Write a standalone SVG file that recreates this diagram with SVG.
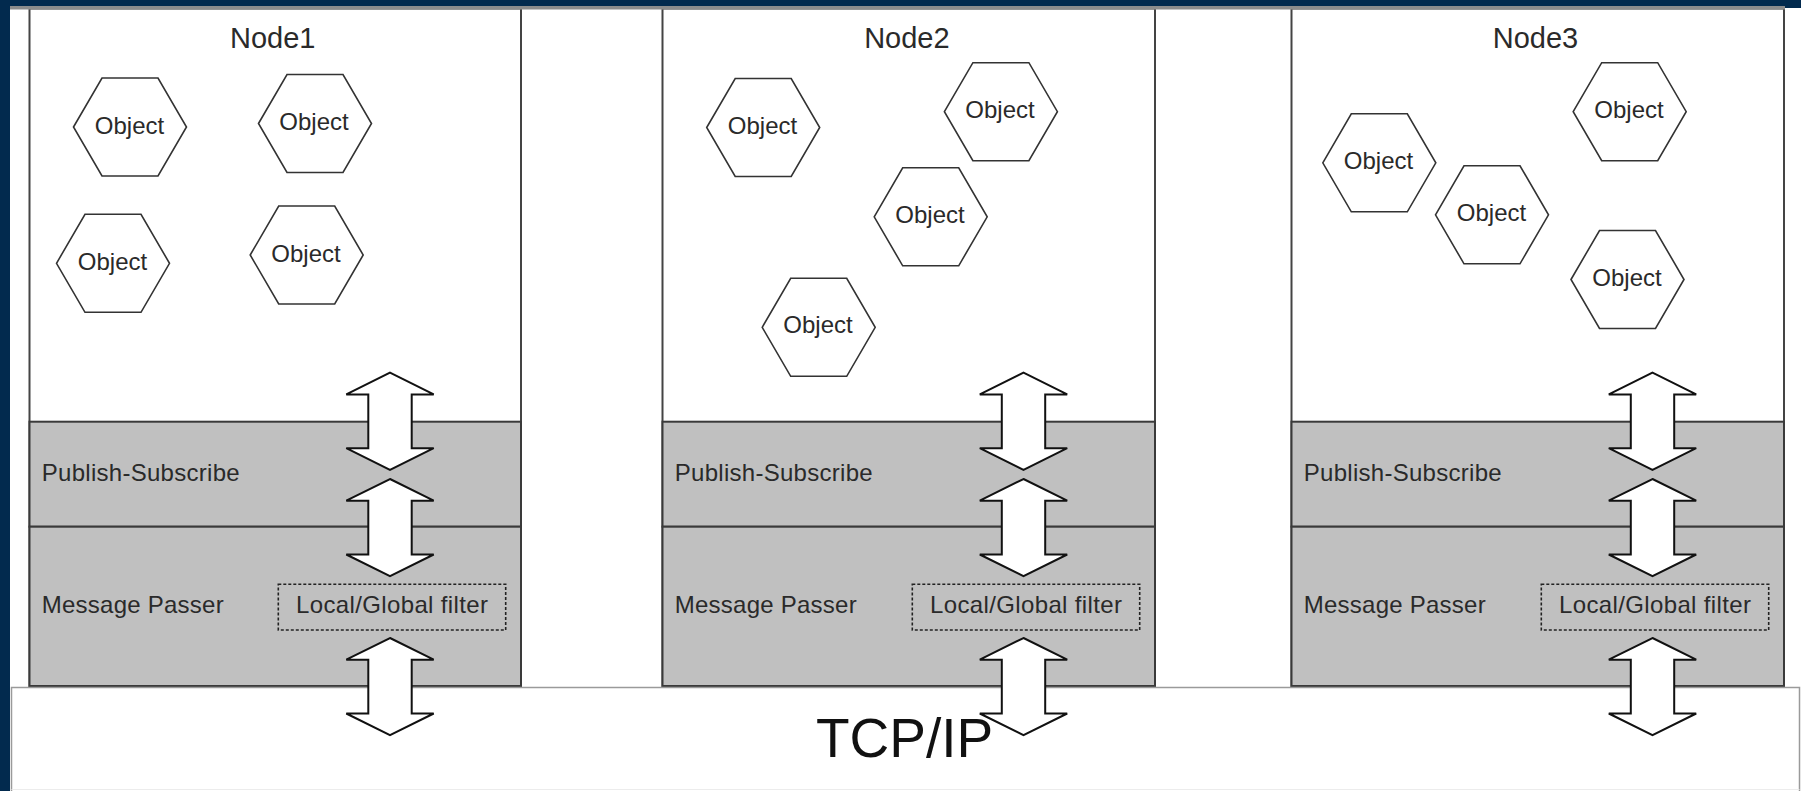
<svg xmlns="http://www.w3.org/2000/svg" xmlns:xlink="http://www.w3.org/1999/xlink" width="1801" height="791" viewBox="0 0 1801 791">
<style>
.box{fill:#ffffff;stroke:#444444;stroke-width:2}
.band{fill:#c0c0c0;stroke:#3a3a3a;stroke-width:2}
.hex{fill:#ffffff;stroke:#333333;stroke-width:1.6}
.obj{font-family:"Liberation Sans",Arial,sans-serif;font-size:24px;fill:#2a2a2a;text-anchor:middle}
.title{font-family:"Liberation Sans",Arial,sans-serif;font-size:29px;fill:#2a2a2a;text-anchor:middle}
.lbl{font-family:"Liberation Sans",Arial,sans-serif;font-size:24px;fill:#2a2a2a}
.flt{fill:none;stroke:#222222;stroke-width:1.6;stroke-dasharray:3 2}
.fltt{font-family:"Liberation Sans",Arial,sans-serif;font-size:24px;fill:#2a2a2a;text-anchor:middle}
.arrow{fill:#ffffff;stroke:#111111;stroke-width:2;stroke-linejoin:miter}
</style>
<defs>
<polygon id="hexagon" class="hex" points="-56.5,0 -28,-49 28,-49 56.5,0 28,49 -28,49"/>
<path id="dblarrow" class="arrow" d="M0,0 L43.7,21.7 L21.7,21.7 L21.7,75.5 L43.7,75.5 L0,97.2 L-43.7,75.5 L-21.7,75.5 L-21.7,21.7 L-43.7,21.7 Z"/>
</defs>
<rect x="0" y="0" width="1801" height="791" fill="#022a4e"/>
<rect x="10" y="8" width="1791" height="783" fill="#ffffff"/>

<g id="node1">
<rect class="box" x="29.5" y="8.5" width="491.5" height="677.5"/>
<rect class="band" x="29.5" y="421.7" width="491.5" height="105"/>
<rect class="band" x="29.5" y="526.7" width="491.5" height="159.3"/>
<text class="title" x="272.7" y="48">Node1</text>
<text class="lbl" x="41.7" y="480.7" textLength="198" lengthAdjust="spacing">Publish-Subscribe</text>
<text class="lbl" x="41.7" y="613.3" textLength="182" lengthAdjust="spacing">Message Passer</text>
<g id="node1-filter">
<rect class="flt" x="278.3" y="584.3" width="227.4" height="45.7"/>
<text class="fltt" x="392" y="613.3" textLength="192" lengthAdjust="spacing">Local/Global filter</text>
</g>
<g id="node1-obj1"><use xlink:href="#hexagon" x="130" y="127"/><text class="obj" x="129.5" y="134">Object</text></g>
<g id="node1-obj2"><use xlink:href="#hexagon" x="315" y="123.5"/><text class="obj" x="314" y="129.5">Object</text></g>
<g id="node1-obj3"><use xlink:href="#hexagon" x="113" y="263.3"/><text class="obj" x="112.5" y="270">Object</text></g>
<g id="node1-obj4"><use xlink:href="#hexagon" x="306.7" y="255"/><text class="obj" x="306" y="261.5">Object</text></g>
</g>

<g id="node2">
<rect class="box" x="662.5" y="8.5" width="492.5" height="677.5"/>
<rect class="band" x="662.5" y="421.7" width="492.5" height="105"/>
<rect class="band" x="662.5" y="526.7" width="492.5" height="159.3"/>
<text class="title" x="906.9" y="48">Node2</text>
<text class="lbl" x="674.7" y="480.7" textLength="198" lengthAdjust="spacing">Publish-Subscribe</text>
<text class="lbl" x="674.7" y="613.3" textLength="182" lengthAdjust="spacing">Message Passer</text>
<g id="node2-filter">
<rect class="flt" x="912.3" y="584.3" width="227.4" height="45.7"/>
<text class="fltt" x="1026" y="613.3" textLength="192" lengthAdjust="spacing">Local/Global filter</text>
</g>
<g id="node2-obj1"><use xlink:href="#hexagon" x="763.2" y="127.5"/><text class="obj" x="762.5" y="133.5">Object</text></g>
<g id="node2-obj2"><use xlink:href="#hexagon" x="1000.9" y="111.7"/><text class="obj" x="1000" y="117.5">Object</text></g>
<g id="node2-obj3"><use xlink:href="#hexagon" x="930.7" y="216.8"/><text class="obj" x="930" y="222.7">Object</text></g>
<g id="node2-obj4"><use xlink:href="#hexagon" x="818.7" y="327.3"/><text class="obj" x="818" y="333.3">Object</text></g>
</g>

<g id="node3">
<rect class="box" x="1291.5" y="8.5" width="492.5" height="677.5"/>
<rect class="band" x="1291.5" y="421.7" width="492.5" height="105"/>
<rect class="band" x="1291.5" y="526.7" width="492.5" height="159.3"/>
<text class="title" x="1535.5" y="48">Node3</text>
<text class="lbl" x="1303.7" y="480.7" textLength="198" lengthAdjust="spacing">Publish-Subscribe</text>
<text class="lbl" x="1303.7" y="613.3" textLength="182" lengthAdjust="spacing">Message Passer</text>
<g id="node3-filter">
<rect class="flt" x="1541.3" y="584.3" width="227.4" height="45.7"/>
<text class="fltt" x="1655" y="613.3" textLength="192" lengthAdjust="spacing">Local/Global filter</text>
</g>
<g id="node3-obj1"><use xlink:href="#hexagon" x="1379.3" y="162.8"/><text class="obj" x="1378.5" y="169">Object</text></g>
<g id="node3-obj2"><use xlink:href="#hexagon" x="1492" y="214.8"/><text class="obj" x="1491.5" y="221">Object</text></g>
<g id="node3-obj3"><use xlink:href="#hexagon" x="1629.7" y="111.7"/><text class="obj" x="1629" y="118">Object</text></g>
<g id="node3-obj4"><use xlink:href="#hexagon" x="1627.5" y="279.5"/><text class="obj" x="1627" y="285.5">Object</text></g>
</g>

<g id="tcpip">
<rect x="11.5" y="687.5" width="1788" height="110" fill="#ffffff" stroke="#9a9a9a" stroke-width="1.5"/>
<line x1="11.5" y1="789.5" x2="1799.5" y2="789.5" stroke="#ececec" stroke-width="1"/>
</g>

<rect x="10" y="6" width="1775" height="3.5" fill="#8c8c8c"/>

<g id="connectors">
<use xlink:href="#dblarrow" x="390" y="372.7"/>
<use xlink:href="#dblarrow" x="390" y="479"/>
<use xlink:href="#dblarrow" x="390" y="638"/>
<use xlink:href="#dblarrow" x="1023.5" y="372.7"/>
<use xlink:href="#dblarrow" x="1023.5" y="479"/>
<use xlink:href="#dblarrow" x="1023.5" y="638"/>
<use xlink:href="#dblarrow" x="1652.5" y="372.7"/>
<use xlink:href="#dblarrow" x="1652.5" y="479"/>
<use xlink:href="#dblarrow" x="1652.5" y="638"/>
</g>

<text id="tcpip-label" x="816" y="757" font-family="Liberation Sans, Arial, sans-serif" font-size="55" fill="#111111">TCP/IP</text>
</svg>
